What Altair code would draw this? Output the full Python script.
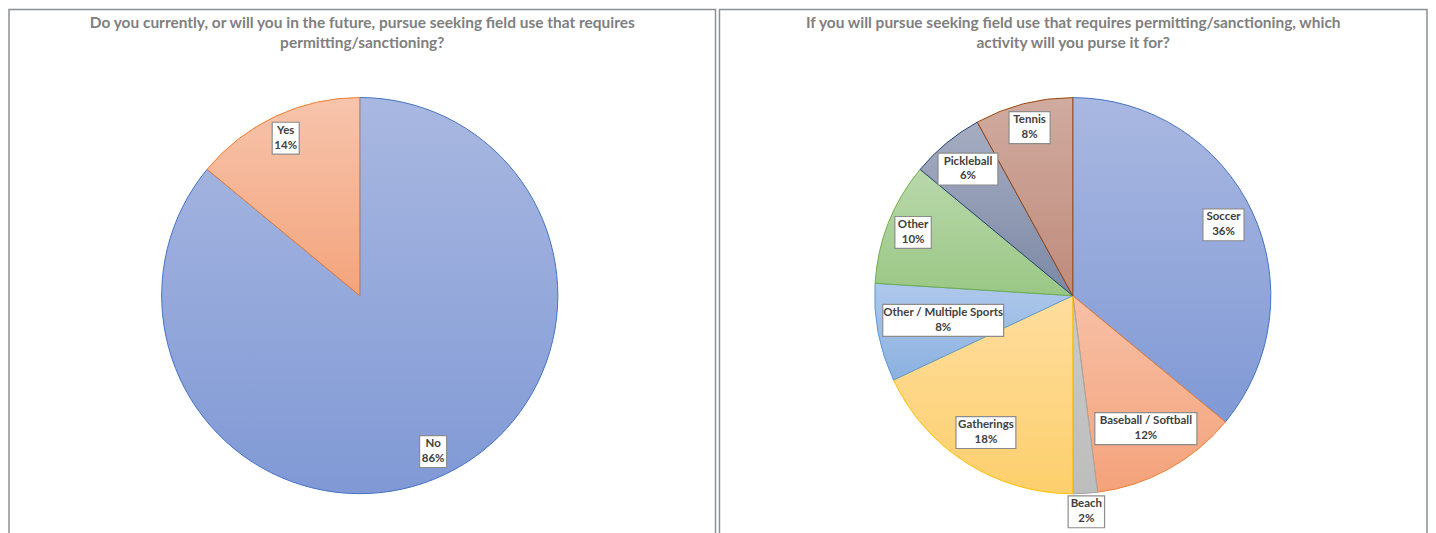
import math
import altair as alt
import pandas as pd

# ---------------- data ----------------
left_title = [
    "Do you currently, or will you in the future, pursue seeking field use that requires",
    "permitting/sanctioning?",
]
left_categories = ["No", "Yes"]
left_values = [86, 14]

right_title = [
    "If you will pursue seeking field use that requires permitting/sanctioning, which",
    "activity will you purse it for?",
]
right_categories = [
    "Soccer",
    "Baseball / Softball",
    "Beach",
    "Gatherings",
    "Other / Multiple Sports",
    "Other",
    "Pickleball",
    "Tennis",
]
right_values = [36, 12, 2, 18, 8, 10, 6, 8]

# ---------------- styles / layout ----------------
left_styles = {
    "No": ("#A9B8E1", "#8099D5", "#4472C4"),
    "Yes": ("#F7C4AC", "#F4A47C", "#ED7D31"),
}
right_styles = {
    "Soccer": ("#A9B8E1", "#8099D5", "#4472C4"),
    "Baseball / Softball": ("#F7C0A6", "#F4A27A", "#ED7D31"),
    "Beach": ("#CACACA", "#BDBDBD", "#A5A5A5"),
    "Gatherings": ("#FEDD9E", "#FDCF6C", "#FFC000"),
    "Other / Multiple Sports": ("#AEC8EA", "#8BB1E0", "#5B9BD5"),
    "Other": ("#B9D8AB", "#9AC785", "#70AD47"),
    "Pickleball": ("#A6ADC2", "#7C88A5", "#264478"),
    "Tennis": ("#D0AB9F", "#BF8B7C", "#9E480E"),
}
left_label_r = {"No": 0.87, "Yes": 0.878}
right_label_r = {
    "Soccer": 0.841,
    "Baseball / Softball": 0.766,
    "Beach": 1.093,
    "Gatherings": 0.818,
    "Other / Multiple Sports": 0.666,
    "Other": 0.867,
    "Pickleball": 0.83,
    "Tennis": 0.876,
}

R = 198.5
FONT = "Lato"
CW = 4.7
PAD = 13
BOX_H = 32
LINE_H = 15


def gradient(top, bottom):
    return alt.LinearGradient(
        gradient="linear", x1=0, y1=0, x2=0, y2=1,
        stops=[alt.GradientStop(color=top, offset=0),
               alt.GradientStop(color=bottom, offset=1)],
    )


def panel(title, cats, vals, styles, label_r, width, height, cx, cy):
    df = pd.DataFrame({"category": cats, "value": vals, "order": list(range(len(cats)))})
    base = (
        alt.Chart(df)
        .transform_window(cum="sum(value)", sort=[alt.SortField("order")], frame=[None, 0])
        .transform_joinaggregate(total="sum(value)")
        .transform_calculate(
            start="(datum.cum - datum.value) / datum.total",
            end="datum.cum / datum.total",
            mid="(datum.cum - datum.value / 2) / datum.total",
            line2="format(datum.value, 'd') + '%'",
        )
        .transform_calculate(label="datum.category + '\\n' + datum.line2")
    )
    theta_scale = alt.Scale(domain=[0, 1], range=[0, 2 * math.pi])
    layers = []
    for c in cats:
        top, bottom, stroke = styles[c]
        layers.append(
            base.transform_filter(alt.datum.category == c)
            .mark_arc(outerRadius=R, fill=gradient(top, bottom), stroke=stroke, strokeWidth=1)
            .encode(
                theta=alt.Theta("start:Q", scale=theta_scale),
                theta2="end:Q",
                x=alt.value(cx),
                y=alt.value(cy),
            )
        )
    for c in cats:
        r = R * label_r[c]
        lb = (
            base.transform_filter(alt.datum.category == c)
            .transform_calculate(
                lx=f"{cx} + {r} * sin(2 * PI * datum.mid)",
                ly=f"{cy} - {r} * cos(2 * PI * datum.mid)",
                bw=f"max(length(datum.category), length(datum.line2)) * {CW} + {PAD}",
            )
            .transform_calculate(
                bx0="datum.lx - datum.bw / 2",
                bx1="datum.lx + datum.bw / 2",
                by0=f"datum.ly - {BOX_H / 2}",
                by1=f"datum.ly + {BOX_H / 2}",
            )
        )
        layers.append(
            lb.mark_rect(fill="white", stroke="#8c8c8c", strokeWidth=1.2).encode(
                x=alt.X("bx0:Q", scale=None, axis=None),
                x2="bx1:Q",
                y=alt.Y("by0:Q", scale=None, axis=None),
                y2="by1:Q",
            )
        )
        layers.append(
            lb.mark_text(
                font=FONT, fontSize=11.5, fontWeight="bold", color="#404040",
                lineBreak="\n", lineHeight=LINE_H, align="center", baseline="middle",
                dy=-LINE_H / 2,
            ).encode(
                x=alt.X("lx:Q", scale=None, axis=None),
                y=alt.Y("ly:Q", scale=None, axis=None),
                text="label:N",
            )
        )
    return alt.layer(*layers).properties(
        width=width,
        height=height,
        title=alt.TitleParams(
            text=title, font=FONT, fontSize=15.5, fontWeight="bold", color="#7f7f7f",
            anchor="middle", baseline="top", offset=-42, lineHeight=20,
        ),
    )


left = panel(left_title, left_categories, left_values, left_styles, left_label_r,
             708, 574, 351.5, 286.6)
right = panel(right_title, right_categories, right_values, right_styles, right_label_r,
              709, 574, 354, 286.7)

chart = (
    alt.hconcat(left, right, spacing=2)
    .properties(padding=0)
    .configure_view(stroke="#8a9096", strokeWidth=1.5)
)

chart.save("out.html", embed_options={"renderer": "svg", "actions": False})
